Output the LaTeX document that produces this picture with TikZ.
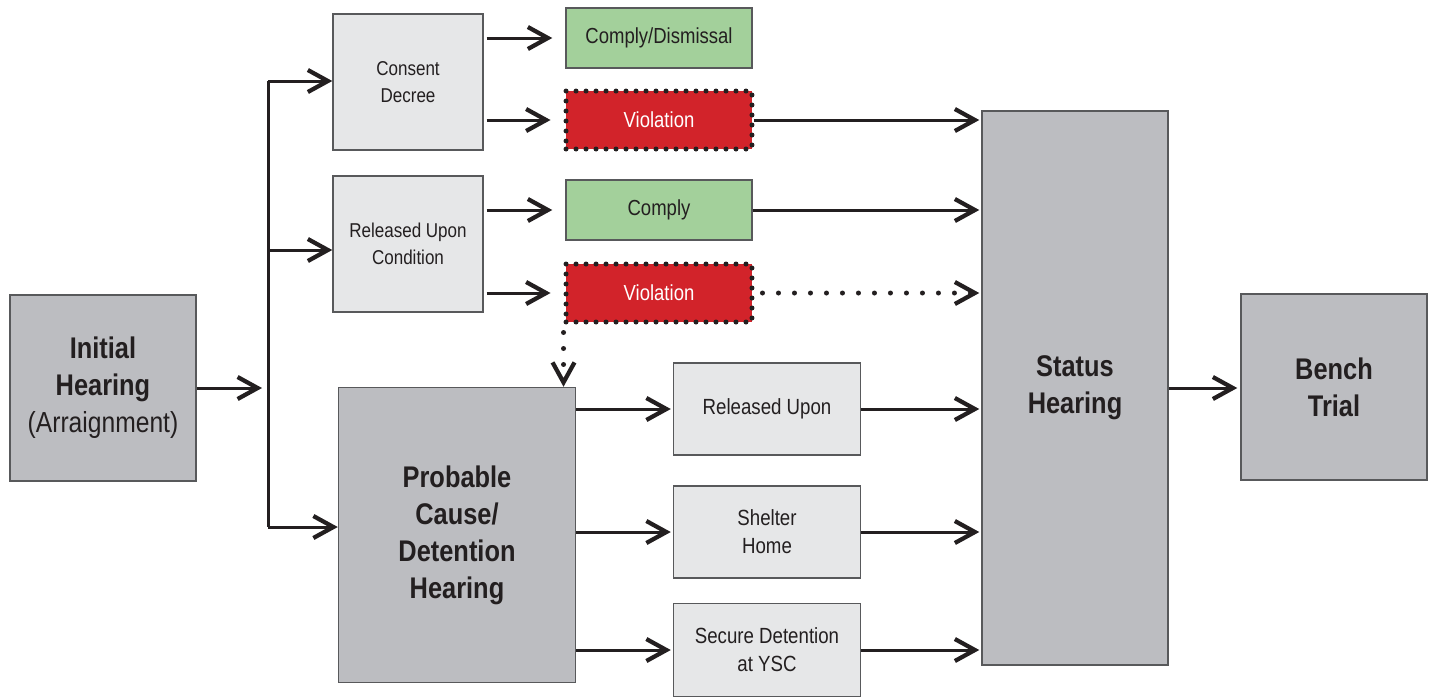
\documentclass[tikz,border=0pt]{standalone}
\usepackage{fontspec}
\setmainfont{Liberation Sans}[FakeStretch=0.85]
\usetikzlibrary{arrows.meta, positioning}

\definecolor{ink}{HTML}{231F20}
\definecolor{edge}{HTML}{58595B}
\definecolor{boxdark}{HTML}{BCBDC1}
\definecolor{boxlight}{HTML}{E6E7E8}
\definecolor{okgreen}{HTML}{A3D09B}
\definecolor{badred}{HTML}{D2232A}

\begin{document}
\begin{tikzpicture}[
    x=0.02cm, y=-0.02cm,
    every node/.style={text=ink},
    stage/.style={
        rectangle,
        draw=edge,
        line width=0.03cm,
        fill=boxdark,
        inner sep=0pt,
        align=center,
        font=\fontsize{17}{21}\selectfont\bfseries
    },
    option/.style={
        rectangle,
        draw=edge,
        line width=0.03cm,
        fill=boxlight,
        inner sep=0pt,
        align=center,
        font=\fontsize{12.5}{16}\selectfont
    },
    release/.style={option, font=\fontsize{11.4}{15}\selectfont},
    outcome/.style={option, fill=okgreen, font=\fontsize{12.4}{14}\selectfont,
        minimum width=3.72cm, minimum height=1.2cm},
    breach/.style={outcome, fill=badred, text=white, draw=ink,
        line width=0.1cm, line cap=round, dash pattern=on 0pt off 0.2cm,
        minimum height=1.16cm},
    arrow/.style={-{Straight Barb[length=0.4cm, width=0.44cm, line width=0.085cm]},
        line width=0.06cm, draw=ink},
    wire/.style={line width=0.06cm, draw=ink},
    dots/.style={arrow, line width=0.1cm, line cap=round,
        dash pattern=on 0pt off 0.32cm}
]
\useasboundingbox (0,0) rectangle (1430,698);

% left column
\node[stage, minimum width=3.72cm, minimum height=3.72cm] (init) at (103,388)
    {Initial\\Hearing\\{\mdseries\fontsize{16.5}{20}\selectfont(Arraignment)}};

\node[release, minimum width=3cm, minimum height=2.72cm] (consent) at (408,82)
    {Consent\\Decree};
\node[release, minimum width=3cm, minimum height=2.72cm] (ruc) at (408,244)
    {Released Upon\\Condition};
\node[stage, minimum width=4.74cm, minimum height=5.9cm] (prob) at (457,535)
    {Probable\\Cause/\\Detention\\Hearing};

% outcomes
\node[outcome] (dismiss) at (659,38) {Comply/Dismissal};
\node[breach] (viol1) at (659,120) {Violation};
\node[outcome] (comply) at (659,210) {Comply};
\node[breach] (viol2) at (659,293) {Violation};

\node[option, minimum width=3.74cm, minimum height=1.84cm] (relup) at (767,409)
    {Released Upon};
\node[option, minimum width=3.74cm, minimum height=1.84cm] (shelter) at (767,532)
    {Shelter\\Home};
\node[option, minimum width=3.74cm, minimum height=1.86cm] (secure) at (767,650)
    {Secure Detention\\at YSC};

% right column
\node[stage, minimum width=3.72cm, minimum height=11.08cm] (status) at (1075,388)
    {Status\\Hearing};
\node[stage, minimum width=3.72cm, minimum height=3.72cm] (bench) at (1334,387)
    {Bench\\Trial};

% split after the initial hearing
\coordinate (split) at (268,388);
\coordinate (b1) at (268,81);
\coordinate (b2) at (268,250);
\coordinate (b3) at (268,527);

\draw[arrow, shorten >=0.12cm] (init) -- (split);
\draw[wire] (b1) -- (b3);
\draw[arrow] (b1) -- (b1 -| consent.west);
\draw[arrow] (b2) -- (b2 -| ruc.west);
\draw[arrow] (b3) -- (b3 -| prob.west);

\draw[arrow, shorten <=0.06cm, shorten >=0.26cm] (consent.east |- dismiss) -- (dismiss);
\draw[arrow, shorten <=0.06cm, shorten >=0.26cm] (consent.east |- viol1) -- (viol1);
\draw[arrow, shorten <=0.06cm, shorten >=0.26cm] (ruc.east |- comply) -- (comply);
\draw[arrow, shorten <=0.06cm, shorten >=0.26cm] (ruc.east |- viol2) -- (viol2);

\draw[arrow, shorten >=0.04cm] (viol1) -- (viol1 -| status.west);
\draw[arrow, shorten >=0.04cm] (comply) -- (comply -| status.west);
\draw[dots, shorten <=0.16cm, shorten >=0.04cm] (viol2) -- (viol2 -| status.west);
\draw[dots, shorten <=0.16cm] (viol2.south west) -- (viol2.south west |- prob.north);

\draw[arrow, shorten >=0.04cm] (prob.east |- relup) -- (relup);
\draw[arrow, shorten >=0.04cm] (prob.east |- shelter) -- (shelter);
\draw[arrow, shorten >=0.04cm] (prob.east |- secure) -- (secure);

\draw[arrow, shorten >=0.04cm] (relup) -- (relup -| status.west);
\draw[arrow, shorten >=0.04cm] (shelter) -- (shelter -| status.west);
\draw[arrow, shorten >=0.04cm] (secure) -- (secure -| status.west);

\draw[arrow, shorten >=0.06cm] (status) -- (status -| bench.west);

\end{tikzpicture}
\end{document}
